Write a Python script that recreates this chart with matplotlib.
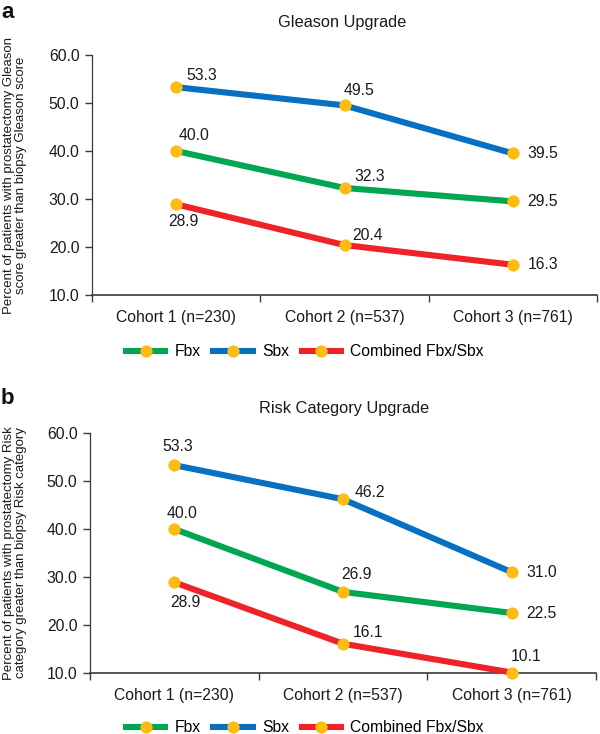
import matplotlib
matplotlib.use("Agg")
import matplotlib.pyplot as plt
from matplotlib.lines import Line2D

plt.rcParams['font.family'] = ['Liberation Sans', 'DejaVu Sans']

categories = ["Cohort 1 (n=230)", "Cohort 2 (n=537)", "Cohort 3 (n=761)"]
series_names = ["Fbx", "Sbx", "Combined Fbx/Sbx"]

gleason_fbx = [40.0, 32.3, 29.5]
gleason_sbx = [53.3, 49.5, 39.5]
gleason_comb = [28.9, 20.4, 16.3]

risk_fbx = [40.0, 26.9, 22.5]
risk_sbx = [53.3, 46.2, 31.0]
risk_comb = [28.9, 16.1, 10.1]

yticks = [10.0, 20.0, 30.0, 40.0, 50.0, 60.0]

colors = ["#00A651", "#0870C0", "#EE2229"]
marker_color = "#FDBB13"
axis_color = "#3a3a3a"

# label offsets in pixels (dx, dy up) for each series / point
offs_a = [
    [(18, 15), (25, 11), (30, 0)],
    [(26, 12), (14, 15), (30, 0)],
    [(7, -17), (23, 10), (30, 0)],
]
offs_b = [
    [(8, 16), (14, 17), (30, 0)],
    [(3, 19), (27, 7), (30, 0)],
    [(11, -20), (25, 11), (14, 16)],
]

W, H = 600, 734
fig = plt.figure(figsize=(W / 100, H / 100), dpi=100)


def panel(rect, title, title_xy, letter, letter_xy, ylabel, data, offs, legend_y):
    ax = fig.add_axes(rect)
    x = list(range(1, len(categories) + 1))
    for vals, c, off in zip(data, colors, offs):
        ax.plot(x, vals, color=c, lw=4.4, solid_capstyle='butt', zorder=3,
                marker='o', markersize=8.8, markerfacecolor=marker_color,
                markeredgecolor=marker_color, markeredgewidth=0, clip_on=False)
        for xi, v, (dx, dy) in zip(x, vals, off):
            ax.annotate(f"{v:.1f}", (xi, v), xytext=(dx, dy),
                        textcoords='offset pixels', ha='center', va='center',
                        fontsize=11.3, color='#1a1a1a')
    ax.set_xlim(0.5, len(categories) + 0.5)
    ax.set_ylim(10, 60)
    ax.set_yticks(yticks)
    ax.set_yticklabels([f"{t:.1f}" for t in yticks])
    ax.set_xticks(x)
    ax.set_xticklabels(categories)
    ax.set_xticks([i + 0.5 for i in range(len(categories) + 1)], minor=True)
    ax.tick_params(axis='x', which='major', length=0, pad=11, labelsize=11.3,
                   labelcolor='#1a1a1a')
    ax.tick_params(axis='x', which='minor', length=5, width=1, color=axis_color,
                   direction='out')
    ax.tick_params(axis='y', length=5, width=1, color=axis_color, pad=4,
                   labelsize=11.3, labelcolor='#1a1a1a')
    for s in ['top', 'right']:
        ax.spines[s].set_visible(False)
    for s in ['left', 'bottom']:
        ax.spines[s].set_color(axis_color)
        ax.spines[s].set_linewidth(1.2)
    ax.spines['left'].set_linewidth(0.9)
    ax.set_facecolor('none')

    fig.text(title_xy[0] / W, 1 - title_xy[1] / H, title, ha='center',
             va='center', fontsize=11.8, color='#1a1a1a')
    fig.text(letter_xy[0] / W, 1 - letter_xy[1] / H, letter, ha='left',
             va='center', fontsize=16, fontweight='bold', color='#111111')
    cy = rect[1] + rect[3] / 2
    fig.text(15 / W, cy, ylabel, rotation=90, ha='center', va='center',
             fontsize=9.5, multialignment='center', color='#1a1a1a',
             linespacing=1.1)

    handles = [Line2D([0], [0], color=c, lw=4.4, marker='o', markersize=8.8,
                      markerfacecolor=marker_color, markeredgewidth=0)
               for c in colors]
    fig.legend(handles, series_names, loc='center',
               bbox_to_anchor=(305 / W, 1 - legend_y / H), ncol=3,
               frameon=False, fontsize=11.3, handlelength=2.5,
               handletextpad=0.6, columnspacing=0.8, markerscale=1.0)
    return ax


panel([92 / W, 1 - 295 / H, 505 / W, 240 / H], "Gleason Upgrade", (342, 23),
      "a", (1, 12),
      "Percent of patients with prostatectomy Gleason\nscore greater than biopsy Gleason score",
      [gleason_fbx, gleason_sbx, gleason_comb], offs_a, 352)

panel([90 / W, 1 - 673 / H, 506 / W, 240 / H], "Risk Category Upgrade", (344, 409),
      "b", (1, 399),
      "Percent of patients with prostatectomy Risk\ncategory greater than biopsy Risk category",
      [risk_fbx, risk_sbx, risk_comb], offs_b, 728)

fig.savefig("out.png", dpi=100)
